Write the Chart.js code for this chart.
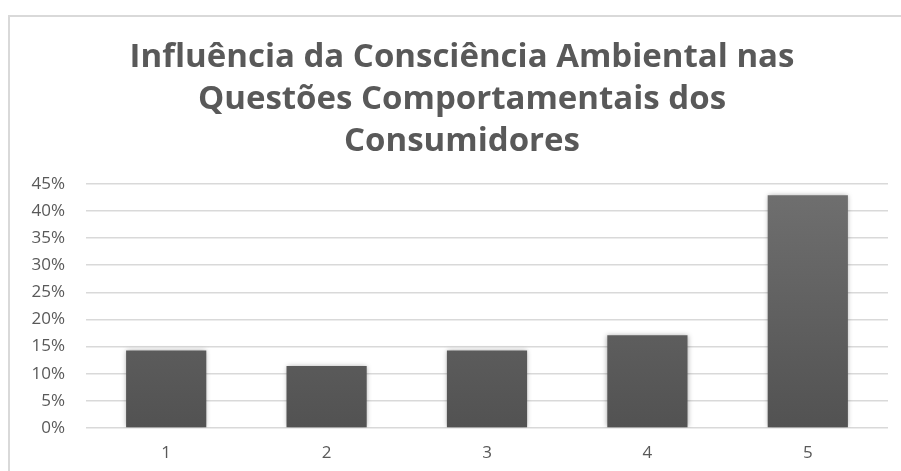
<!DOCTYPE html>
<html lang="pt">
<head>
<meta charset="utf-8">
<script src="https://cdn.jsdelivr.net/npm/chart.js@4/dist/chart.umd.min.js"></script>
<style>
  html, body { margin: 0; padding: 0; background: #fff; }
  #wrap { position: relative; width: 901px; height: 471px; }
</style>
</head>
<body>
<div id="wrap"><canvas id="chart"></canvas></div>
<script>
  // ── Dados ────────────────────────────────────────────────────────────────
  var categories = ['1', '2', '3', '4', '5'];
  var values = [14.3, 11.4, 14.3, 17.1, 42.9]; // percentagem
  var yTicks = [0, 5, 10, 15, 20, 25, 30, 35, 40, 45];
  var titleLines = [
    'Influência da Consciência Ambiental nas',
    'Questões Comportamentais dos',
    'Consumidores'
  ];

  var GREY_TEXT = '#595959';
  var GRID = '#d9d9d9';

  // moldura cinzenta do gráfico (canto superior esquerdo visível)
  var framePlugin = {
    id: 'frame',
    beforeDraw: function (chart) {
      var c = chart.ctx;
      c.save();
      c.strokeStyle = '#d9d9d9';
      c.lineWidth = 2;
      c.beginPath();
      c.moveTo(9, chart.height + 5);
      c.lineTo(9, 16);
      c.lineTo(chart.width + 5, 16);
      c.stroke();
      c.restore();
    }
  };

  // título centrado sobre a moldura, não sobre o canvas inteiro
  var titleShift = {
    id: 'titleShift',
    afterLayout: function (chart) {
      if (chart.titleBlock) {
        chart.titleBlock.left = 36;
        chart.titleBlock.right = chart.width - 13;
      }
    }
  };

  // sombra suave nas barras
  var shadowPlugin = {
    id: 'barShadow',
    beforeDatasetsDraw: function (chart) {
      var c = chart.ctx;
      c.save();
      c.shadowColor = 'rgba(0,0,0,0.35)';
      c.shadowBlur = 5;
      c.shadowOffsetX = 0;
      c.shadowOffsetY = 0;
    },
    afterDatasetsDraw: function (chart) { chart.ctx.restore(); }
  };

  function barGradient(ctx) {
    var area = ctx.chart.chartArea;
    if (!area) return '#5f5f5f';
    var g = ctx.chart.ctx.createLinearGradient(0, area.top, 0, area.bottom);
    g.addColorStop(0, '#707070');
    g.addColorStop(1, '#525252');
    return g;
  }

  new Chart(document.getElementById('chart').getContext('2d'), {
    type: 'bar',
    data: {
      labels: categories,
      datasets: [{
        data: values,
        backgroundColor: barGradient,
        borderWidth: 0,
        barPercentage: 1,
        categoryPercentage: 0.5
      }]
    },
    plugins: [framePlugin, titleShift, shadowPlugin],
    options: {
      responsive: true,
      maintainAspectRatio: false,
      animation: false,
      layout: { padding: { left: 0, right: 13, top: 0, bottom: 0 } },
      plugins: {
        legend: { display: false },
        tooltip: { enabled: false },
        title: {
          display: true,
          text: titleLines,
          color: GREY_TEXT,
          font: { family: 'Open Sans', size: 33, weight: 'bold', lineHeight: 1.27 },
          padding: { top: 37, bottom: 21 }
        }
      },
      scales: {
        x: {
          grid: { display: false, drawTicks: false },
          border: { display: false },
          ticks: { color: GREY_TEXT, font: { family: 'Open Sans', size: 17 }, padding: 15 },
          afterFit: function (scale) { scale.height = 43; }
        },
        y: {
          min: 0,
          max: 45,
          afterBuildTicks: function (scale) {
            scale.ticks = yTicks.map(function (v) { return { value: v }; });
          },
          afterFit: function (scale) { scale.width = 86; },
          grid: { color: GRID, lineWidth: 1.5, drawTicks: false },
          border: { display: false },
          ticks: {
            color: GREY_TEXT,
            font: { family: 'Open Sans', size: 17 },
            padding: 21,
            callback: function (v) { return v + '%'; }
          }
        }
      }
    }
  });
</script>
</body>
</html>
